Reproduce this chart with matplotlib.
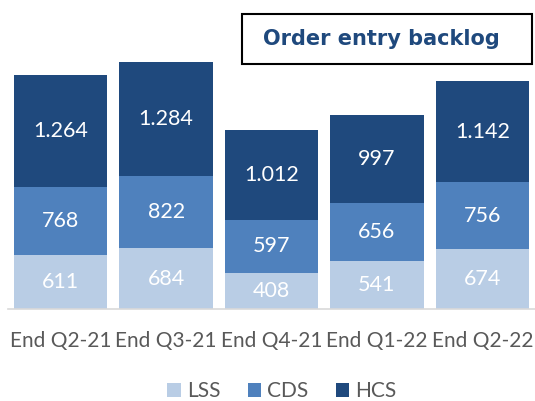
import matplotlib
matplotlib.use("Agg")
import matplotlib.pyplot as plt
from matplotlib.patches import Rectangle

categories = ["End Q2-21", "End Q3-21", "End Q4-21", "End Q1-22", "End Q2-22"]
lss = [611, 684, 408, 541, 674]
cds = [768, 822, 597, 656, 756]
hcs = [1264, 1284, 1012, 997, 1142]
series_names = ["LSS", "CDS", "HCS"]
title = "Order entry backlog"

colors = ["#B9CDE5", "#4F81BD", "#1F497D"]

def fmt(v):
    return f"{v:,}".replace(",", ".")

W, H = 535, 401
fig = plt.figure(figsize=(W / 100, H / 100), dpi=100)
ax = fig.add_axes([8 / W, 1 - 309 / H, 527 / W, 299 / H])

x = list(range(len(categories)))
bottom = [0] * len(categories)
for name, vals, c in zip(series_names, [lss, cds, hcs], colors):
    ax.bar(x, vals, width=0.885, bottom=bottom, color=c, label=name, zorder=2)
    for xi, b, v in zip(x, bottom, vals):
        ax.text(xi, b + v / 2, fmt(v), ha="center", va="center", color="white",
                fontsize=15.5, family="Lato", zorder=3)
    bottom = [b + v for b, v in zip(bottom, vals)]

px_per_unit = 234 / 2643
ax.set_ylim(0, 299 / px_per_unit)
ax.set_xlim(-0.5, 4.5)
ax.set_yticks([])
ax.set_xticks(x)
ax.set_xticklabels(categories, fontsize=15, family="Lato", color="#595959")
ax.tick_params(axis="x", length=0, pad=16)
for s in ["top", "right", "left"]:
    ax.spines[s].set_visible(False)
ax.spines["bottom"].set_color("#D9D9D9")
ax.spines["bottom"].set_linewidth(1.2)

# Title box
fig.patches.append(Rectangle((242 / W, 1 - 64 / H), 290 / W, 50 / H,
                             transform=fig.transFigure, facecolor="white",
                             edgecolor="black", linewidth=1.5))
fig.text(381 / W, 1 - 39 / H, title, ha="center", va="center", fontsize=15,
         fontweight="bold", color="#1F497D", family="DejaVu Sans")

leg = fig.legend(loc="center", bbox_to_anchor=(282 / W, 1 - 391 / H), ncol=3,
                 frameon=False, handlelength=0.65, handleheight=0.65,
                 handletextpad=0.3, columnspacing=1.3, prop={"family": "Lato", "size": 15})
for t in leg.get_texts():
    t.set_color("#595959")

fig.savefig("out.png", dpi=100)
